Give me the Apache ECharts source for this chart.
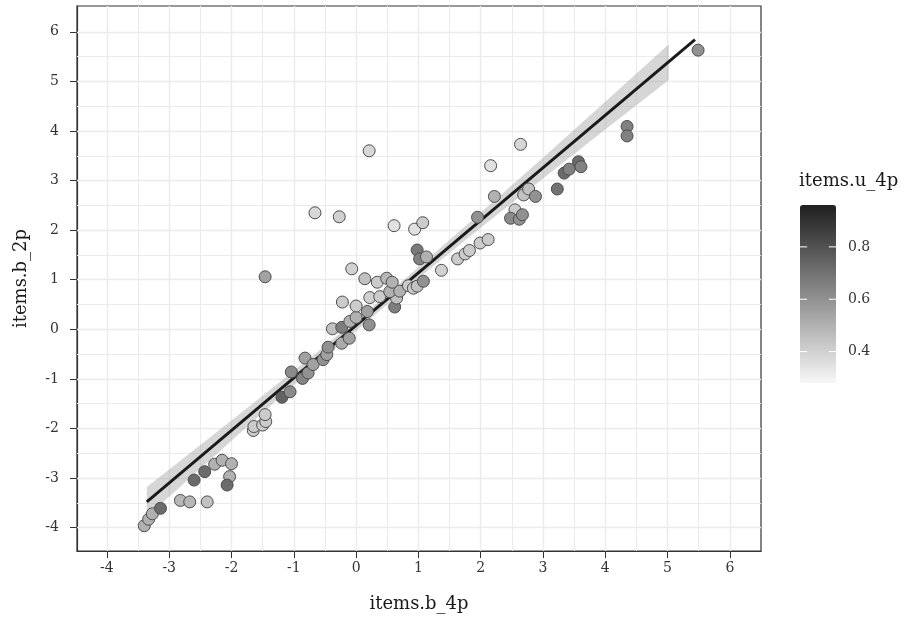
<!DOCTYPE html>
<html><head><meta charset="utf-8">
<script src="https://cdn.jsdelivr.net/npm/echarts@6/dist/echarts.min.js"></script>
<style>html,body{margin:0;padding:0;background:#fff}#c{width:911px;height:620px}</style>
</head><body><div id="c"></div>
<script>
// scatter points: x = items.b_4p, y = items.b_2p, u = items.u_4p
const xs = [-3.40,-3.33,-3.27,-3.14,-2.82,-2.67,-2.39,-2.60,-2.43,-2.27,-2.15,-2.00,-2.03,-2.07,-1.65,-1.64,-1.50,-1.45,-1.46,-1.19,
  -1.06,-1.04,-0.86,-0.77,-0.82,-0.69,-0.53,-0.47,-0.45,-0.23,-0.11,-0.38,-0.23,0.21,-0.10,0.00,0.18,0.00,-0.22,0.22,
  0.38,0.62,0.65,0.54,0.70,0.84,0.92,0.98,1.08,-0.07,0.14,0.34,0.49,0.58,0.98,1.02,1.13,1.37,1.63,1.75,
  1.82,1.99,2.12,0.61,0.94,1.07,-0.27,-0.66,0.21,-1.46,1.95,2.22,2.16,2.64,2.55,2.48,2.62,2.67,2.69,2.77,
  2.88,3.23,3.34,3.42,3.57,3.61,4.35,4.35,5.49];
const ys = [-3.96,-3.83,-3.72,-3.61,-3.45,-3.48,-3.48,-3.04,-2.87,-2.72,-2.64,-2.71,-2.97,-3.14,-2.04,-1.96,-1.93,-1.86,-1.72,-1.37,
  -1.26,-0.86,-0.99,-0.88,-0.58,-0.71,-0.61,-0.51,-0.36,-0.28,-0.18,0.01,0.04,0.09,0.16,0.24,0.36,0.47,0.55,0.64,
  0.66,0.45,0.63,0.76,0.77,0.88,0.83,0.87,0.97,1.22,1.02,0.95,1.03,0.95,1.60,1.42,1.46,1.19,1.42,1.52,
  1.59,1.74,1.81,2.09,2.02,2.15,2.27,2.35,3.60,1.06,2.26,2.68,3.30,3.73,2.41,2.24,2.22,2.31,2.71,2.83,
  2.68,2.83,3.15,3.23,3.38,3.28,4.09,3.90,5.63];
const us = [0.50,0.50,0.50,0.72,0.48,0.48,0.45,0.72,0.72,0.50,0.50,0.50,0.50,0.72,0.42,0.42,0.42,0.42,0.42,0.75,
  0.62,0.62,0.64,0.60,0.55,0.55,0.60,0.55,0.60,0.52,0.55,0.45,0.66,0.60,0.50,0.50,0.55,0.42,0.42,0.40,
  0.42,0.66,0.45,0.50,0.50,0.42,0.42,0.45,0.60,0.40,0.45,0.42,0.48,0.50,0.68,0.65,0.50,0.40,0.42,0.42,
  0.42,0.42,0.42,0.35,0.35,0.42,0.40,0.38,0.38,0.55,0.60,0.50,0.35,0.38,0.42,0.62,0.60,0.60,0.45,0.45,
  0.60,0.70,0.72,0.65,0.72,0.65,0.65,0.65,0.60];

// fitted line and its confidence band
const fitX = [-3.36, 5.44];
const fitY = [-3.48, 5.84];
const bandX    = [-3.36,-2.5,-1.5,-0.5,0.3,1.0,2.0,3.0,4.0,5.02];
const bandLow  = [-3.78,-2.81,-1.68,-0.57,0.29,1.03,2.05,3.04,4.03,5.03];
const bandHigh = [-3.18,-2.33,-1.34,-0.33,0.49,1.25,2.35,3.46,4.59,5.75];

// ticks
const xTicks = [-4,-3,-2,-1,0,1,2,3,4,5,6];
const yTicks = [-4,-3,-2,-1,0,1,2,3,4,5,6];
const xMinor = [-3.5,-2.5,-1.5,-0.5,0.5,1.5,2.5,3.5,4.5,5.5];
const yMinor = [-3.5,-2.5,-1.5,-0.5,0.5,1.5,2.5,3.5,4.5,5.5];
const legendTicks = [0.4,0.6,0.8];
const uRange = [0.28, 0.96];

const FONT = 'DejaVu Serif';
const chart = echarts.init(document.getElementById('c'), null, {renderer:'canvas'});

const gridLines = [];
xTicks.forEach(v => gridLines.push({xAxis:v, lineStyle:{color:'#ebebeb', width:1.4, type:'solid'}}));
yTicks.forEach(v => gridLines.push({yAxis:v, lineStyle:{color:'#ebebeb', width:1.4, type:'solid'}}));
xMinor.forEach(v => gridLines.push({xAxis:v, lineStyle:{color:'#ebebeb', width:1.0, type:'solid'}}));
yMinor.forEach(v => gridLines.push({yAxis:v, lineStyle:{color:'#ebebeb', width:1.0, type:'solid'}}));

chart.setOption({
  animation:false,
  backgroundColor:'#ffffff',
  title:{text:'items.u_4p', left:799, top:172, padding:0,
    textStyle:{fontFamily:FONT, fontSize:18, fontWeight:'normal', color:'#1a1a1a'}},
  grid:[
    {left:77, top:6, width:684, height:545, show:true, borderColor:'#333333', borderWidth:1.2, backgroundColor:'#ffffff'},
    {left:800, top:205, width:36, height:178, show:false}
  ],
  xAxis:[
    {type:'value', gridIndex:0, min:-4.48, max:6.5,
      axisLine:{show:true, onZero:false, lineStyle:{color:'#333333', width:1.2}},
      splitLine:{show:false},
      axisTick:{show:true, length:7, customValues:xTicks, lineStyle:{color:'#333333', width:1}},
      axisLabel:{customValues:xTicks, fontFamily:FONT, fontSize:14, color:'#333333', margin:10},
      name:'items.b_4p', nameLocation:'middle', nameGap:44,
      nameTextStyle:{fontFamily:FONT, fontSize:18, color:'#1a1a1a'}},
    {type:'value', gridIndex:1, min:0, max:1, show:false}
  ],
  yAxis:[
    {type:'value', gridIndex:0, min:-4.47, max:6.52,
      axisLine:{show:true, onZero:false, lineStyle:{color:'#333333', width:1.2}},
      splitLine:{show:false},
      axisTick:{show:true, length:7, customValues:yTicks, lineStyle:{color:'#333333', width:1}},
      axisLabel:{customValues:yTicks, fontFamily:FONT, fontSize:14, color:'#333333', margin:18},
      name:'items.b_2p', nameLocation:'middle', nameGap:47,
      nameTextStyle:{fontFamily:FONT, fontSize:18, color:'#1a1a1a'}},
    {type:'value', gridIndex:1, min:uRange[0], max:uRange[1], position:'right',
      axisLine:{show:false}, splitLine:{show:false}, axisTick:{show:false},
      axisLabel:{show:true, customValues:legendTicks, margin:12, fontFamily:FONT, fontSize:14, color:'#333333',
        formatter: v => Number(v).toFixed(1)}}
  ],
  visualMap:{
    type:'continuous', min:uRange[0], max:uRange[1], dimension:2, seriesIndex:3,
    left:800, top:205, itemWidth:36, itemHeight:178, padding:0,
    calculable:false, hoverLink:false, orient:'vertical',
    inRange:{color:['#f7f7f7','#1f1f1f']}
  },
  series:[
    {type:'scatter', xAxisIndex:0, yAxisIndex:0, data:[[0,0]], symbolSize:0, silent:true, z:1,
      markLine:{silent:true, symbol:['none','none'], label:{show:false}, animation:false, z:1,
        emphasis:{disabled:true}, data:gridLines}},
    {type:'custom', xAxisIndex:0, yAxisIndex:0, data:[[0,0]], z:8, silent:true, clip:true,
      renderItem:function(params, api){
        const pts = [];
        for (let i=0;i<bandX.length;i++) pts.push(api.coord([bandX[i], bandHigh[i]]));
        for (let i=bandX.length-1;i>=0;i--) pts.push(api.coord([bandX[i], bandLow[i]]));
        return {type:'polygon', shape:{points:pts}, style:{fill:'rgba(153,153,153,0.4)', stroke:null}};
      }},
    {type:'line', xAxisIndex:0, yAxisIndex:0, z:9, silent:true, showSymbol:false, symbol:'none',
      data:fitX.map((x,i)=>[x,fitY[i]]),
      lineStyle:{color:'#1a1a1a', width:3}},
    {type:'scatter', xAxisIndex:0, yAxisIndex:0, z:10, symbolSize:12,
      data:xs.map((x,i)=>[x, ys[i], us[i]]),
      itemStyle:{borderColor:'#4d4d4d', borderWidth:1, opacity:1}},
    // white tick marks on the colour bar
    {type:'custom', xAxisIndex:1, yAxisIndex:1, z:20, zlevel:1, silent:true,
      data:legendTicks.map(v=>[0,v]),
      renderItem:function(params, api){
        const v = api.value(1);
        const a = api.coord([0, v]), b = api.coord([1, v]);
        const w = (b[0]-a[0])*0.2;
        return {type:'group', children:[
          {type:'line', shape:{x1:a[0], y1:a[1], x2:a[0]+w, y2:a[1]}, style:{stroke:'#ffffff', lineWidth:1}},
          {type:'line', shape:{x1:b[0]-w, y1:b[1], x2:b[0], y2:b[1]}, style:{stroke:'#ffffff', lineWidth:1}}
        ]};
      }}
  ]
});
</script>
</body></html>
